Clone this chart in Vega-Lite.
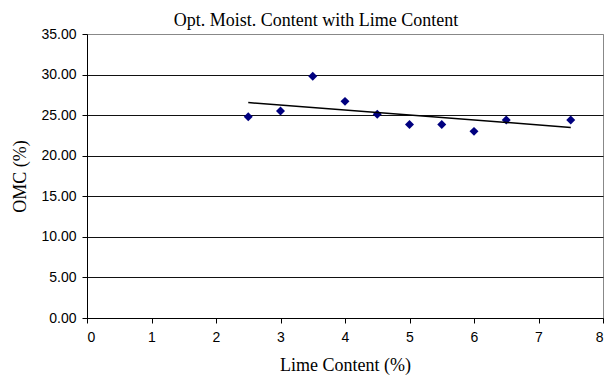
{
  "$schema": "https://vega.github.io/schema/vega-lite/v6.json",
  "width": 516,
  "height": 284,
  "autosize": {"type": "none"},
  "padding": {"left": 87, "top": 34, "right": 3, "bottom": 58},
  "background": "white",
  "title": {
    "text": "Opt. Moist. Content with Lime Content",
    "font": "Liberation Serif",
    "fontSize": 18,
    "fontWeight": "normal",
    "color": "#000",
    "anchor": "middle",
    "dx": -29,
    "offset": -3
  },
  "config": {
    "view": {"stroke": "#888", "strokeWidth": 1},
    "axis": {
      "labelFont": "Liberation Sans",
      "labelFontSize": 14,
      "labelColor": "#000",
      "titleFont": "Liberation Serif",
      "titleFontSize": 18,
      "titleFontWeight": "normal",
      "titleColor": "#000",
      "domainColor": "#000",
      "tickColor": "#000",
      "tickSize": 5
    }
  },
  "data": {
    "values": [
      {"lime": 2.5, "omc": 24.8},
      {"lime": 3.0, "omc": 25.5},
      {"lime": 3.5, "omc": 29.8},
      {"lime": 4.0, "omc": 26.7},
      {"lime": 4.5, "omc": 25.1},
      {"lime": 5.0, "omc": 23.85},
      {"lime": 5.5, "omc": 23.85},
      {"lime": 6.0, "omc": 23.0},
      {"lime": 6.5, "omc": 24.4},
      {"lime": 7.5, "omc": 24.4}
    ]
  },
  "layer": [
    {
      "mark": {"type": "point", "shape": "diamond", "filled": true, "color": "#00007f", "size": 80, "opacity": 1},
      "encoding": {
        "x": {
          "field": "lime", "type": "quantitative",
          "scale": {"domain": [0, 8], "nice": false, "zero": false},
          "axis": {"title": "Lime Content (%)", "values": [0,1,2,3,4,5,6,7,8], "format": "d", "grid": false, "labelPadding": 7, "titlePadding": 12}
        },
        "y": {
          "field": "omc", "type": "quantitative",
          "scale": {"domain": [0, 35], "nice": false},
          "axis": {
            "title": "OMC (%)", "values": [0,5,10,15,20,25,30,35], "format": ".2f",
            "grid": true,
            "gridColor": {"condition": {"test": "datum.value === 35", "value": "#888"}, "value": "#111"},
            "gridWidth": 1,
            "labelPadding": 6, "titlePadding": 11
          }
        }
      }
    },
    {
      "transform": [{"regression": "omc", "on": "lime", "extent": [2.5, 7.5]}],
      "mark": {"type": "line", "color": "#000", "strokeWidth": 1.5},
      "encoding": {
        "x": {"field": "lime", "type": "quantitative"},
        "y": {"field": "omc", "type": "quantitative"}
      }
    }
  ]
}
